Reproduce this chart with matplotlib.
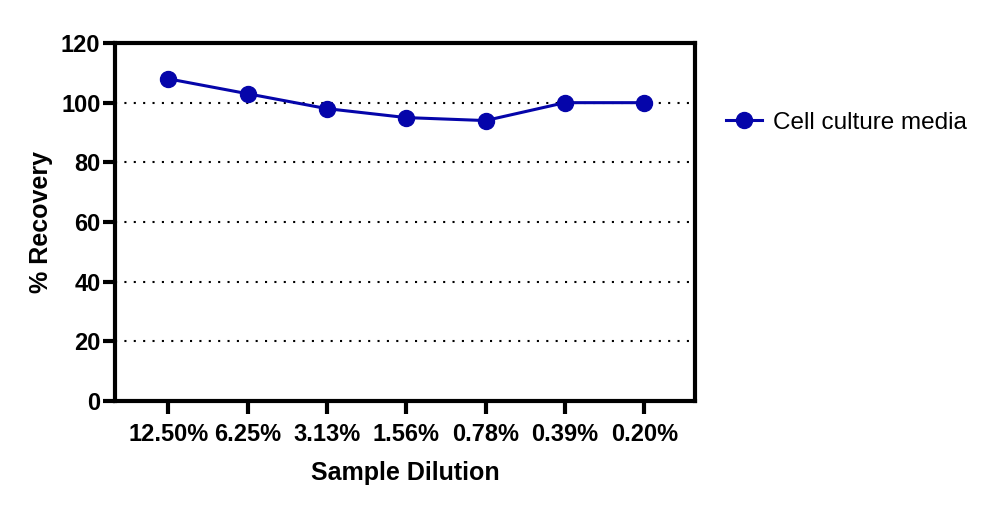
import matplotlib
matplotlib.use("Agg")
import matplotlib.pyplot as plt

# sample dilutions and recovery
dilutions = ["12.50%", "6.25%", "3.13%", "1.56%", "0.78%", "0.39%", "0.20%"]
recovery = [108, 103, 98, 95, 94, 100, 100]
yticks = [0, 20, 40, 60, 80, 100, 120]

plt.rcParams['font.family'] = ['Liberation Sans', 'DejaVu Sans']

fig = plt.figure(figsize=(10.01, 5.07), dpi=100)
ax = fig.add_axes([0.1149, 0.209, 0.5794, 0.7062])

x = list(range(len(dilutions)))
ax.plot(x, recovery, color='#0505aa', lw=2.2, marker='o', ms=11.5,
        label='Cell culture media', zorder=3, clip_on=False)

ax.set_xlim(-0.67, 6.64)
ax.set_ylim(0, 120)
ax.set_yticks(yticks)
ax.set_xticks(x)
ax.set_xticklabels(dilutions)

for y in yticks[1:-1]:
    ax.axhline(y, color='black', lw=1.5, ls=(0, (1, 3.5)), zorder=1)

for s in ax.spines.values():
    s.set_linewidth(3)
ax.tick_params(axis='y', length=9, width=3, labelsize=17, pad=1.5)
ax.tick_params(axis='x', length=9, width=3, labelsize=17, pad=6.5)
for lab in ax.get_xticklabels() + ax.get_yticklabels():
    lab.set_fontweight('bold')

ax.set_xlabel('Sample Dilution', fontsize=18, fontweight='bold', labelpad=11)
ax.set_ylabel('% Recovery', fontsize=18, fontweight='bold', labelpad=6)

ax.legend(loc='center left', bbox_to_anchor=(1.015, 0.777), frameon=False,
          fontsize=17.5, handlelength=1.5, handletextpad=0.45)

fig.savefig('out.png', dpi=100)
